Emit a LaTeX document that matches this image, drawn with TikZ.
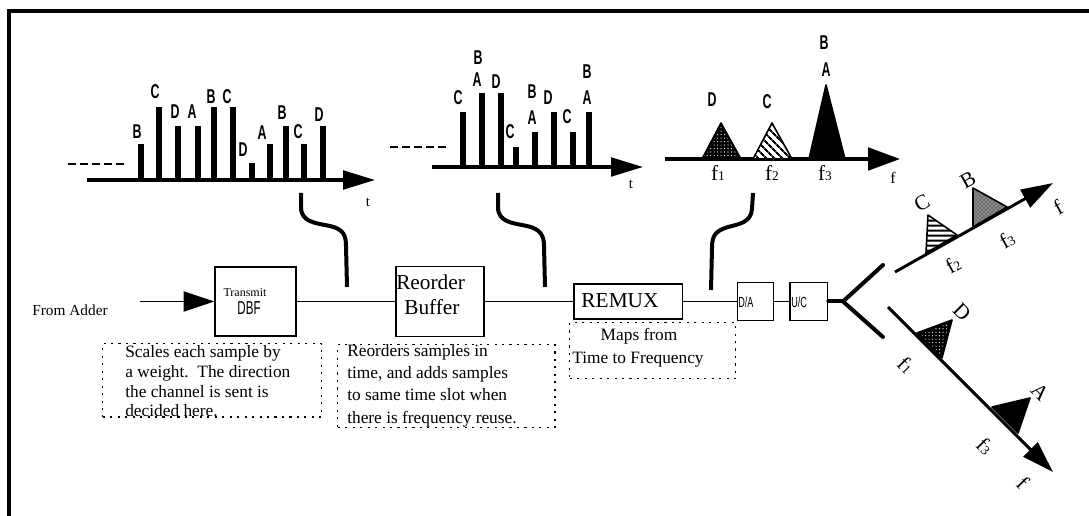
\documentclass[tikz,border=0pt]{standalone}
\usepackage{fontspec}
\setmainfont{Liberation Serif}
\newfontfamily\condsans[FakeStretch=0.62]{Liberation Sans}
\newfontfamily\condsansb[FakeStretch=0.62]{Liberation Sans Bold}
\usetikzlibrary{arrows.meta,patterns,patterns.meta}
\begin{document}
\begin{tikzpicture}[x=0.75pt,y=-0.75pt,
  axis/.style={line width=2.4pt,-{Triangle[length=24pt,width=14pt]}},
  bar/.style={line width=4.5pt},
  lab/.style={font=\condsansb\fontsize{15}{15}\selectfont,inner sep=0pt},
  ser/.style={font=\fontsize{13}{14}\selectfont,inner sep=0pt},
  flab/.style={font=\fontsize{16}{16}\selectfont,inner sep=0pt},
  blk/.style={draw,line width=1.3pt,inner sep=0pt},
  wire/.style={line width=1.4pt},
  fork/.style={line width=3pt,line cap=round},
  squig/.style={line width=3pt},
  notebox/.style={draw,line width=1.1pt,dash pattern=on 1.6pt off 4pt,inner sep=0pt},
  dashln/.style={line width=1.6pt,dash pattern=on 6pt off 3pt},
  tri/.style={draw,line width=1.2pt,line join=round}
]
\path[use as bounding box] (0,0) rectangle (1089,516);
% frame
\draw[line width=2.6pt] (9,516) -- (9,11) -- (1089,11);

% ---------- chart 1 ----------
\coordinate (c1s) at (87,180);
\coordinate (c1e) at (375,180);
\draw[axis] (c1s) -- (c1e);
\coordinate (d1s) at (68,164); \coordinate (d1e) at (125,164);
\draw[dashln] (d1s) -- (d1e);
\foreach \x/\y in {140.7/144,159.3/107,178.3/126,197.7/126,214/107,232.7/107,251.7/163,270/144,286/126,304.3/144,322.7/126}
  \draw[bar] (\x,180) -- (\x,\y);
\foreach \x/\y/\t [count=\i] in {137/132/B,155/92/C,175/112/D,192/112/A,211/97/B,227/97/C,243/150/D,262/133/A,282/113/B,298/132/C,319/115/D}
  \node[lab] (ca\i) at (\x,\y) {\t};
\node[font=\fontsize{11}{11}\selectfont,inner sep=0pt] (t1) at (368,202) {t};

% ---------- chart 2 ----------
\coordinate (c2s) at (432,167);
\coordinate (c2e) at (643,167);
\draw[axis] (c2s) -- (c2e);
\coordinate (d2s) at (390,147); \coordinate (d2e) at (448,147);
\draw[dashln] (d2s) -- (d2e);
\foreach \x/\y in {463.3/112,481.7/93,500.7/93,516/147,535/132,554/112,572.7/132,589.3/112}
  \draw[bar] (\x,167) -- (\x,\y);
\foreach \x/\y/\t [count=\i] in {458/98/C,478/58/B,477/80/A,496/82/D,510/132/C,532/92/B,532/118/A,548/98/D,567/117/C,587/72/B,587/98/A}
  \node[lab] (cb\i) at (\x,\y) {\t};
\node[font=\fontsize{11}{11}\selectfont,inner sep=0pt] (t2) at (631,184) {t};

% ---------- chart 3 ----------
\coordinate (c3s) at (665,159);
\coordinate (c3e) at (900,159);
\draw[line width=2.4pt,-{Triangle[length=24pt,width=17pt]}] (c3s) -- (c3e);
\fill[black] (702,159) -- (741,159) -- (721,123) -- cycle;
\fill[pattern={Dots[distance=2.6pt,radius=0.45pt]},pattern color=white] (704,158) -- (739,158) -- (721,126) -- cycle;
\draw[tri] (702,159) -- (741,159) -- (721,123) -- cycle;
\fill[white] (753,159) -- (792,159) -- (772,123) -- cycle;
\fill[pattern={Lines[angle=-45,distance=4pt,line width=1.6pt]}] (753,159) -- (792,159) -- (772,123) -- cycle;
\draw[tri] (753,159) -- (792,159) -- (772,123) -- cycle;
\filldraw[tri,fill=black] (809,159) -- (845,159) -- (826,85) -- cycle;
\node[lab] (l3d) at (712,100) {D};
\node[lab] (l3c) at (767,102) {C};
\node[lab] (l3a) at (826,70) {A};
\node[lab] (l3b) at (824,43) {B};
\node[flab] (f31) at (718,173) {f{\fontsize{10}{10}\selectfont 1}};
\node[flab] (f32) at (772,173) {f{\fontsize{10}{10}\selectfont 2}};
\node[flab] (f33) at (825,173) {f{\fontsize{10}{10}\selectfont 3}};
\node[font=\fontsize{12}{12}\selectfont,inner sep=0pt] (f3f) at (893,178) {f};

% ---------- main chain ----------
\node[font=\fontsize{11.5}{11.5}\selectfont,inner sep=0pt] (adder) at (70,310) {From Adder};
\node[blk,minimum width=60.5pt,minimum height=52pt,anchor=west] (dbf) at (214.3,301.5) {};
\node[blk,minimum width=66.2pt,minimum height=52.5pt,anchor=west] (reo) at (395,301.5) {};
\node[blk,minimum width=81.3pt,minimum height=26.3pt,anchor=west] (remux) at (573.3,301.5) {};
\node[blk,minimum width=27pt,minimum height=28.5pt,anchor=west] (da) at (736.7,301.5) {};
\node[blk,minimum width=28pt,minimum height=28.5pt,anchor=west] (uc) at (789.3,301.5) {};
\coordinate (inA) at (140,301.5);
\draw[wire,-{Triangle[length=23pt,width=15pt]}] (inA) -- (dbf.west);
\draw[wire] (dbf.east) -- (reo.west);
\draw[wire] (reo.east) -- (remux.west);
\draw[wire] (remux.east) -- (da.west);
\draw[wire] (da.east) -- (uc.west);
\coordinate (fk) at (843,301.5);
\coordinate (fku) at (883,265);
\coordinate (fkl) at (883,337);
\draw[fork] (uc.east) -- (fk);
\draw[fork] (fku) -- (fk) -- (fkl);

\node[font=\fontsize{9}{9}\selectfont,inner sep=0pt] (tx) at (245,293) {Transmit};
\node[font=\condsans\fontsize{14}{14}\selectfont,inner sep=0pt] (dbft) at (249,308) {DBF};
\node[font=\fontsize{16}{16}\selectfont,inner sep=0pt,anchor=west] (reot1) at (396,282) {Reorder};
\node[font=\fontsize{16}{16}\selectfont,inner sep=0pt,anchor=west] (reot2) at (404,307) {Buffer};
\node[font=\fontsize{16}{16}\selectfont,inner sep=0pt] (remuxt) at (620,301) {REMUX};
\node[font=\condsans\fontsize{11}{11}\selectfont,inner sep=0pt,anchor=west] (dat) at (738,302) {D/A};
\node[font=\condsans\fontsize{11}{11}\selectfont,inner sep=0pt,anchor=west] (uct) at (791,302) {U/C};

% ---------- squiggles ----------
\coordinate (q1a) at (301,193); \coordinate (q1b) at (347,287);
\draw[squig] (q1a) -- (301,207) .. controls (301,222) and (315,223) .. (330,226) .. controls (343,229) and (346,235) .. (346,246) -- (q1b);
\coordinate (q2a) at (498,193); \coordinate (q2b) at (545,287);
\draw[squig] (q2a) -- (498,207) .. controls (498,222) and (512,223) .. (527,226) .. controls (540,229) and (544,235) .. (544,246) -- (q2b);
\coordinate (q3a) at (753,193); \coordinate (q3b) at (711,290);
\draw[squig] (q3a) -- (752,209) .. controls (751,222) and (740,224) .. (728,227) .. controls (715,231) and (712,236) .. (712,248) -- (q3b);

% ---------- note boxes ----------
\node[notebox,minimum width=164pt,minimum height=55pt,anchor=north west] (nb1) at (102,343) {};
\node[ser,anchor=base west] (n1a) at (125,358) {Scales each sample by};
\node[ser,anchor=base west] (n1b) at (125,378) {a weight.\ \ The direction};
\node[ser,anchor=base west] (n1c) at (125,398) {the channel is sent is};
\node[ser,anchor=base west] (n1d) at (125,417) {decided here.};
\node[notebox,minimum width=163pt,minimum height=62pt,anchor=north west] (nb2) at (337,344) {};
\node[ser,anchor=base west] (n2a) at (347,357) {Reorders samples in};
\node[ser,anchor=base west] (n2b) at (347,379) {time, and adds samples};
\node[ser,anchor=base west] (n2c) at (347,401) {to same time slot when};
\node[ser,anchor=base west] (n2d) at (347,424) {there is frequency reuse.};
\node[notebox,minimum width=124.5pt,minimum height=42pt,anchor=north west] (nb3) at (569,322) {};
\node[ser,anchor=base] (n3a) at (639,341) {Maps from};
\node[ser,anchor=base] (n3b) at (638,364) {Time to Frequency};

% ---------- output spectra ----------
\coordinate (ua) at (895,272); \coordinate (ub) at (1053,183);
\draw[line width=2.2pt,-{Triangle[length=24pt,width=15pt]}] (ua) -- (ub);
\coordinate (la) at (888,307); \coordinate (lb) at (1053,472);
\draw[line width=2.2pt,-{Triangle[length=24pt,width=15pt]}] (la) -- (lb);
% upper C (striped)
\fill[white] (926,253) -- (957,235) -- (928,215) -- cycle;
\fill[pattern={Lines[angle=0,distance=4pt,line width=1.6pt]}] (926,253) -- (957,235) -- (928,215) -- cycle;
\draw[tri] (926,253) -- (957,235) -- (928,215) -- cycle;
% upper B (dots)
\filldraw[tri,fill=black!45] (973,227) -- (1007,207) -- (973,188) -- cycle;
\fill[pattern=crosshatch dots] (973,227) -- (1007,207) -- (973,188) -- cycle;
% lower D
\fill[black] (917,333) -- (942,358) -- (952,320) -- cycle;
\fill[pattern={Dots[distance=2.6pt,radius=0.45pt]},pattern color=white] (920,334) -- (941,355) -- (949,323) -- cycle;
\draw[tri] (917,333) -- (942,358) -- (952,320) -- cycle;
% lower A
\filldraw[tri,fill=black] (992,407) -- (1018,433) -- (1030,398) -- cycle;
% labels upper
\node[flab,rotate=29] (uC) at (922,203) {C};
\node[flab,rotate=29] (uB) at (968,180) {B};
\node[flab,rotate=29] (uf2) at (953,265) {f{\fontsize{10}{10}\selectfont 2}};
\node[flab,rotate=29] (uf3) at (1007,240) {f{\fontsize{10}{10}\selectfont 3}};
\node[flab,rotate=29] (uf) at (1058,207) {f};
% labels lower
\node[flab,rotate=-45] (lD) at (962,312) {D};
\node[flab,rotate=-45] (lf1) at (906,365) {f{\fontsize{10}{10}\selectfont 1}};
\node[flab,rotate=-45] (lA) at (1040,392) {A};
\node[flab,rotate=-45] (lf3) at (985,446) {f{\fontsize{10}{10}\selectfont 3}};
\node[flab,rotate=-45] (lf) at (1023,483) {f};
\end{tikzpicture}
\end{document}
